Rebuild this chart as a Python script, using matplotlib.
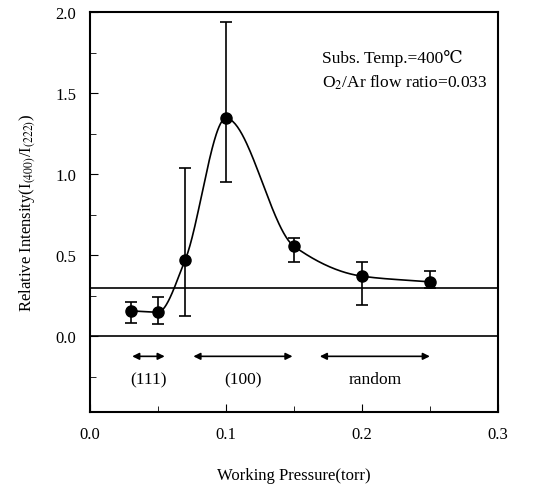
import numpy as np
import matplotlib.pyplot as plt
from matplotlib.ticker import MultipleLocator

plt.rcParams["font.family"] = ["Liberation Serif", "DejaVu Serif"]
plt.rcParams["mathtext.fontset"] = "stix"

# data
pressure = [0.03, 0.05, 0.07, 0.10, 0.15, 0.20, 0.25]
intensity = [0.156, 0.148, 0.47, 1.345, 0.555, 0.37, 0.335]
err_top = [0.21, 0.24, 1.04, 1.94, 0.605, 0.455, 0.40]
err_bottom = [0.08, 0.074, 0.125, 0.95, 0.46, 0.19, 0.295]

regions = ["(111)", "(100)", "random"]
region_start = [0.029, 0.074, 0.167]
region_end = [0.057, 0.151, 0.252]
reference_level = 0.30


def pchip(x, y, n=60):
    # monotone cubic (Fritsch-Carlson) drawn through the measured points
    x = np.asarray(x, float)
    y = np.asarray(y, float)
    h = np.diff(x)
    d = np.diff(y) / h
    m = np.zeros_like(y)
    for k in range(1, len(x) - 1):
        if d[k - 1] * d[k] > 0:
            w1 = 2 * h[k] + h[k - 1]
            w2 = h[k] + 2 * h[k - 1]
            m[k] = (w1 + w2) / (w1 / d[k - 1] + w2 / d[k])
    m[0] = d[0]
    m[-1] = d[-1]
    xs, ys = [], []
    for k in range(len(x) - 1):
        t = np.linspace(0, 1, n)
        h00 = 2 * t ** 3 - 3 * t ** 2 + 1
        h10 = t ** 3 - 2 * t ** 2 + t
        h01 = -2 * t ** 3 + 3 * t ** 2
        h11 = t ** 3 - t ** 2
        xs.append(x[k] + t * h[k])
        ys.append(h00 * y[k] + h10 * h[k] * m[k] + h01 * y[k + 1] + h11 * h[k] * m[k + 1])
    return np.concatenate(xs), np.concatenate(ys)


fig = plt.figure(figsize=(5.52, 4.89), dpi=100)
ax = fig.add_axes([0.163, 0.155, 0.739, 0.818])

cx, cy = pchip(pressure, intensity)
ax.plot(cx, cy, color="black", lw=1.2)

yerr = [np.array(intensity) - np.array(err_bottom), np.array(err_top) - np.array(intensity)]
ax.errorbar(pressure, intensity, yerr=yerr, fmt="o", color="black",
            ms=8, capsize=4, elinewidth=1.2, capthick=1.2)

ax.axhline(reference_level, color="black", lw=1.2)
ax.axhline(0.0, color="black", lw=1.2)

for name, a, b in zip(regions, region_start, region_end):
    ax.annotate("", xy=(a, -0.125), xytext=(b, -0.125),
                arrowprops=dict(arrowstyle="<|-|>", color="black", lw=1.2,
                                mutation_scale=10))
    ax.text((a + b) / 2, -0.265, name, ha="center", va="center", fontsize=12.5)

ax.text(0.171, 1.72, "Subs. Temp.=400\u2103", fontsize=12.5, va="center")
ax.text(0.171, 1.57, "O$_2$/Ar flow ratio=0.033", fontsize=12.5, va="center")

ax.set_xlim(0.0, 0.3)
ax.set_ylim(-0.47, 2.0)
ax.xaxis.set_major_locator(MultipleLocator(0.1))
ax.xaxis.set_minor_locator(MultipleLocator(0.05))
ax.yaxis.set_minor_locator(MultipleLocator(0.25))
ax.set_yticks([0.0, 0.5, 1.0, 1.5, 2.0])
ax.tick_params(which="both", direction="in", labelsize=12)
ax.tick_params(which="major", length=6, pad=10)
ax.tick_params(which="minor", length=4)
ax.xaxis.set_major_formatter(plt.FuncFormatter(lambda v, p: f"{v:.1f}"))
ax.yaxis.set_major_formatter(plt.FuncFormatter(lambda v, p: f"{v:.1f}"))
for s in ax.spines.values():
    s.set_linewidth(1.5)

ax.set_xlabel("Working Pressure(torr)", fontsize=12, labelpad=18)
ax.set_ylabel("Relative Intensity(I$_{(400)}$/I$_{(222)}$)", fontsize=12, labelpad=12)

fig.savefig("out.png", dpi=100)
